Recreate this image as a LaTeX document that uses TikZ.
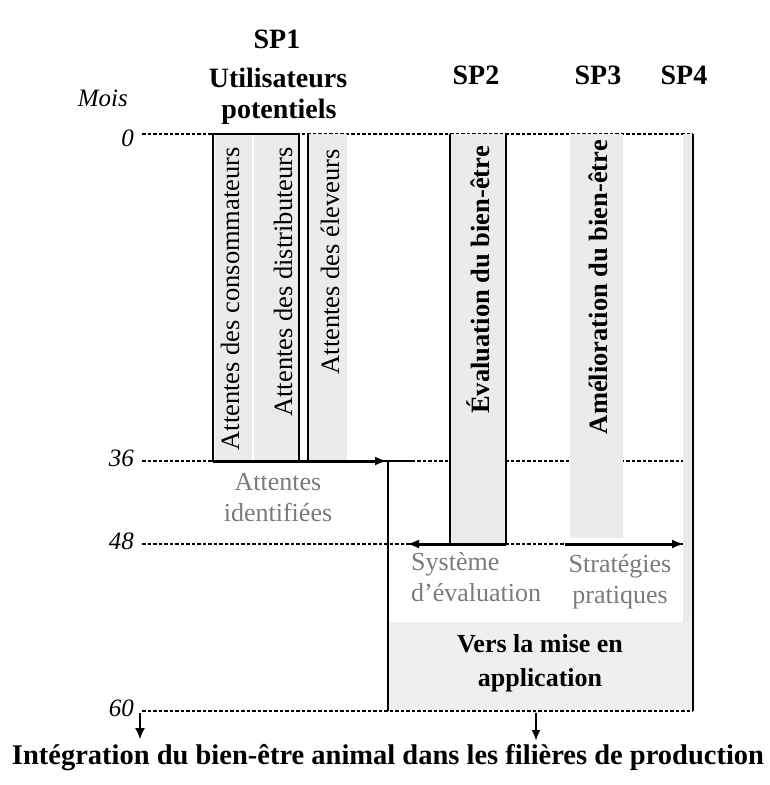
\documentclass[tikz,border=0pt]{standalone}
\usepackage{fontspec}
\setmainfont{Liberation Serif}
\usetikzlibrary{arrows.meta}
\definecolor{stripgray}{HTML}{EBEBEB}
\definecolor{boxgray}{HTML}{EFEFEF}
\definecolor{lblgray}{HTML}{7A7A7A}
\begin{document}
\begin{tikzpicture}[x=1pt,y=-1pt,
  dashline/.style={line width=1.3pt,dash pattern=on 3.5pt off 2pt},
  frame/.style={line width=1.6pt},
  thickarrow/.style={line width=3pt,-{Latex[length=12pt,width=9pt]}},
  strip/.style={fill=stripgray,draw=none},
  head/.style={font=\fontsize{28}{31}\selectfont\bfseries,inner sep=0pt},
  month/.style={font=\fontsize{25}{28}\selectfont\itshape,inner sep=0pt,anchor=east},
  coltext/.style={font=\fontsize{26.5}{29}\selectfont,inner sep=0pt,rotate=90,anchor=east},
  colbold/.style={font=\fontsize{26.5}{29}\selectfont\bfseries,inner sep=0pt,rotate=90,anchor=east},
  graylbl/.style={font=\fontsize{26}{31}\selectfont,text=lblgray,inner sep=0pt,align=center},
]
\useasboundingbox (0,0) rectangle (770,785);

% time axis coordinates
\coordinate (t0l) at (142,134);  \coordinate (t0r) at (693,134);
\coordinate (t36l) at (142,461); \coordinate (t36r) at (693,461);
\coordinate (t48l) at (142,544); \coordinate (t48r) at (693,544);
\coordinate (t60l) at (142,711); \coordinate (t60r) at (693,711);

% dashed month lines
\draw[dashline] (t0l) -- (t0r);
\draw[dashline] (t36l) -- (t36r);
\draw[dashline] (t48l) -- (t48r);
\draw[dashline] (t60l) -- (t60r);

% grey strips
\fill[strip] (215,134) rectangle (252,460);
\fill[strip] (254,134) rectangle (298,460);
\fill[strip] (309,134) rectangle (347,460);
\fill[strip] (451,134) rectangle (505,543);
\fill[strip] (570,134) rectangle (623,538);
\fill[strip] (683,134) rectangle (692,710);
\fill[boxgray] (389,622) rectangle (692,710);

% month labels
\node[month] (mois) at (128,98) {Mois};
\node[month] (m0) at (134,138) {0};
\node[month] (m36) at (134,458) {36};
\node[month] (m48) at (134,541) {48};
\node[month] (m60) at (134,708) {60};

% headings
\node[head] (sp1) at (277,39) {SP1};
\node[head] (util) at (278,78) {Utilisateurs};
\node[head] (pot) at (279,112) {potentiels};
\node[head] (sp2) at (476,75) {SP2};
\node[head] (sp3) at (598,75) {SP3};
\node[head] (sp4) at (684,75) {SP4};

% SP1 boxes
\draw[frame] (213,134) rectangle (299,461);
\coordinate (b2t) at (308,134); \coordinate (b2b) at (308,461);
\draw[frame] (b2t) -- (b2b);
\node[coltext] (consom) at (230,147) {Attentes des consommateurs};
\node[coltext] (distri) at (283,147) {Attentes des distributeurs};
\node[coltext] (eleve) at (330,149) {Attentes des éleveurs};

% SP1 output arrow
\coordinate (a1s) at (213,461); \coordinate (a1e) at (387,461);
\draw[thickarrow] (a1s) -- (a1e);
\node[graylbl] (attid) at (278,498) {Attentes\\identifiées};

% application region frame
\coordinate (rtop) at (388,461); \coordinate (rbot) at (388,711);
\draw[frame] (rbot) -- (rtop) -- (412,461);

% SP2
\draw[frame] (450,134) -- (450,544);
\draw[frame] (506,134) -- (506,544);
\node[colbold] (eval) at (478,146) {Évaluation du bien-être};
\coordinate (a2s) at (506,544); \coordinate (a2e) at (407,544);
\draw[thickarrow] (a2s) -- (a2e);

% SP3
\node[colbold] (amel) at (598,140) {Amélioration du bien-être};
\coordinate (a3s) at (565,544); \coordinate (a3e) at (684,544);
\draw[thickarrow] (a3s) -- (a3e);

% SP4
\coordinate (sp4t) at (693,134); \coordinate (sp4b) at (693,711);
\draw[frame] (sp4t) -- (sp4b);

% labels in application region
\node[graylbl,align=left,anchor=north west] (syst) at (411,552) {Système\\d'évaluation};
\node[graylbl] (strat) at (620,582) {Stratégies\\pratiques};
\node[font=\fontsize{26}{34}\selectfont\bfseries,align=center,inner sep=0pt] (vers) at (540,663) {Vers la mise en\\application};

% final arrows and text
\node[font=\fontsize{28.5}{31}\selectfont\bfseries,inner sep=0pt] (integ) at (388,758) {Intégration du bien-être animal dans les filières de production};
\coordinate (d1s) at (140,713); \coordinate (d1e) at (140,739);
\draw[line width=1.2pt,-{Latex[length=11pt,width=10pt]}] (d1s) -- (d1e);
\coordinate (d2s) at (536,713); \coordinate (d2e) at (536,741);
\draw[line width=2.5pt,-{Latex[length=11pt,width=9pt]}] (d2s) -- (d2e);
\end{tikzpicture}
\end{document}
